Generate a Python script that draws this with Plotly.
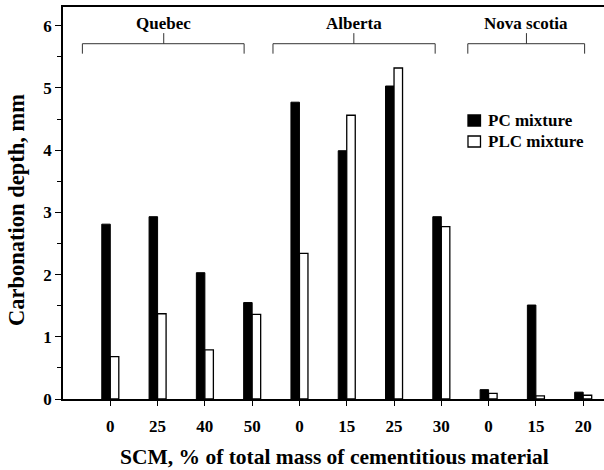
import plotly.graph_objects as go

positions = [1, 2, 3, 4, 5, 6, 7, 8, 9, 10, 11]
tick_labels = ["0", "25", "40", "50", "0", "15", "25", "30", "0", "15", "20"]
pc_mixture = [2.81, 2.93, 2.03, 1.55, 4.77, 3.99, 5.03, 2.93, 0.15, 1.51, 0.11]
plc_mixture = [0.68, 1.37, 0.79, 1.36, 2.34, 4.56, 5.32, 2.77, 0.09, 0.05, 0.06]
series_names = ["PC mixture", "PLC mixture"]

groups = ["Quebec", "Alberta", "Nova scotia"]
group_start = [0.41, 4.44, 8.56]
group_end = [3.83, 7.87, 11.03]
group_mid = [2.13, 6.15, 9.8]

FONT = "Liberation Serif, Times New Roman, serif"

fig = go.Figure()
fig.add_trace(go.Bar(x=positions, y=pc_mixture, name=series_names[0], showlegend=False,
                     marker=dict(color="black", line=dict(color="black", width=1))))
fig.add_trace(go.Bar(x=positions, y=plc_mixture, name=series_names[1], showlegend=False,
                     marker=dict(color="white", line=dict(color="black", width=1.3))))

shapes = []
for s, e, m in zip(group_start, group_end, group_mid):
    ln = dict(color="#333", width=1)
    shapes.append(dict(type="line", xref="x", yref="y", x0=s, x1=e, y0=5.71, y1=5.71, line=ln))
    shapes.append(dict(type="line", xref="x", yref="y", x0=s, x1=s, y0=5.71, y1=5.55, line=ln))
    shapes.append(dict(type="line", xref="x", yref="y", x0=e, x1=e, y0=5.71, y1=5.55, line=ln))
    shapes.append(dict(type="line", xref="x", yref="y", x0=m, x1=m, y0=5.71, y1=5.88, line=ln))

# custom legend (paper coordinates)
legend_fill = ["black", "white"]
legend_y0 = [0.6964, 0.6429]
legend_y1 = [0.7245, 0.6709]
legend_yc = [0.7105, 0.6569]
annotations = []
for name, fill, y0, y1, yc in zip(series_names, legend_fill, legend_y0, legend_y1, legend_yc):
    shapes.append(dict(type="rect", xref="paper", yref="paper", x0=0.7486, x1=0.7717, y0=y0, y1=y1,
                       fillcolor=fill, line=dict(color="black", width=1.3)))
    annotations.append(dict(x=0.7819, y=yc, xref="paper", yref="paper", xanchor="left", yanchor="middle",
                            text=name, showarrow=False,
                            font=dict(family=FONT, size=17, color="black", weight="bold")))

for g, m in zip(groups, group_mid):
    annotations.append(dict(x=m, y=6.03, xref="x", yref="y", text=g, showarrow=False,
                            font=dict(family=FONT, size=17, color="black", weight="bold")))
annotations.append(dict(x=0.501, y=-0.148, xref="paper", yref="paper", xanchor="center", yanchor="middle",
                        text="SCM, % of total mass of cementitious material", showarrow=False,
                        font=dict(family=FONT, size=21.5, color="black", weight="bold")))
annotations.append(dict(x=-0.087, y=0.482, xref="paper", yref="paper", xanchor="center", yanchor="middle",
                        text="Carbonation depth, mm", showarrow=False, textangle=-90,
                        font=dict(family=FONT, size=22.5, color="black", weight="bold")))

fig.update_layout(
    width=604, height=470,
    margin=dict(l=63, r=0, t=7, b=71),
    paper_bgcolor="white", plot_bgcolor="white",
    barmode="group", bargap=0.64, bargroupgap=0,
    font=dict(family=FONT, size=17, color="black", weight="bold"),
    showlegend=False,
    shapes=shapes,
    annotations=annotations,
    xaxis=dict(range=[0, 11.44], tickmode="array", tickvals=positions, ticktext=tick_labels,
               showline=True, linecolor="black", linewidth=1.5, mirror=True,
               ticks="outside", ticklen=5, tickcolor="black", showgrid=False, zeroline=False,
               ticklabelstandoff=6,
               tickfont=dict(family=FONT, size=17, color="black", weight="bold")),
    yaxis=dict(range=[0, 6.3], tickvals=[0, 1, 2, 3, 4, 5, 6],
               showline=True, linecolor="black", linewidth=1.5,
               ticks="outside", ticklen=6, tickcolor="black", showgrid=False, zeroline=False,
               minor=dict(dtick=0.5, ticks="outside", ticklen=4, tickcolor="black", showgrid=False),
               tickfont=dict(family=FONT, size=17, color="black", weight="bold")),
)

fig.write_html("out.html", config={"displayModeBar": False},
               post_script="document.body.style.margin='0';document.body.style.overflow='hidden';")
